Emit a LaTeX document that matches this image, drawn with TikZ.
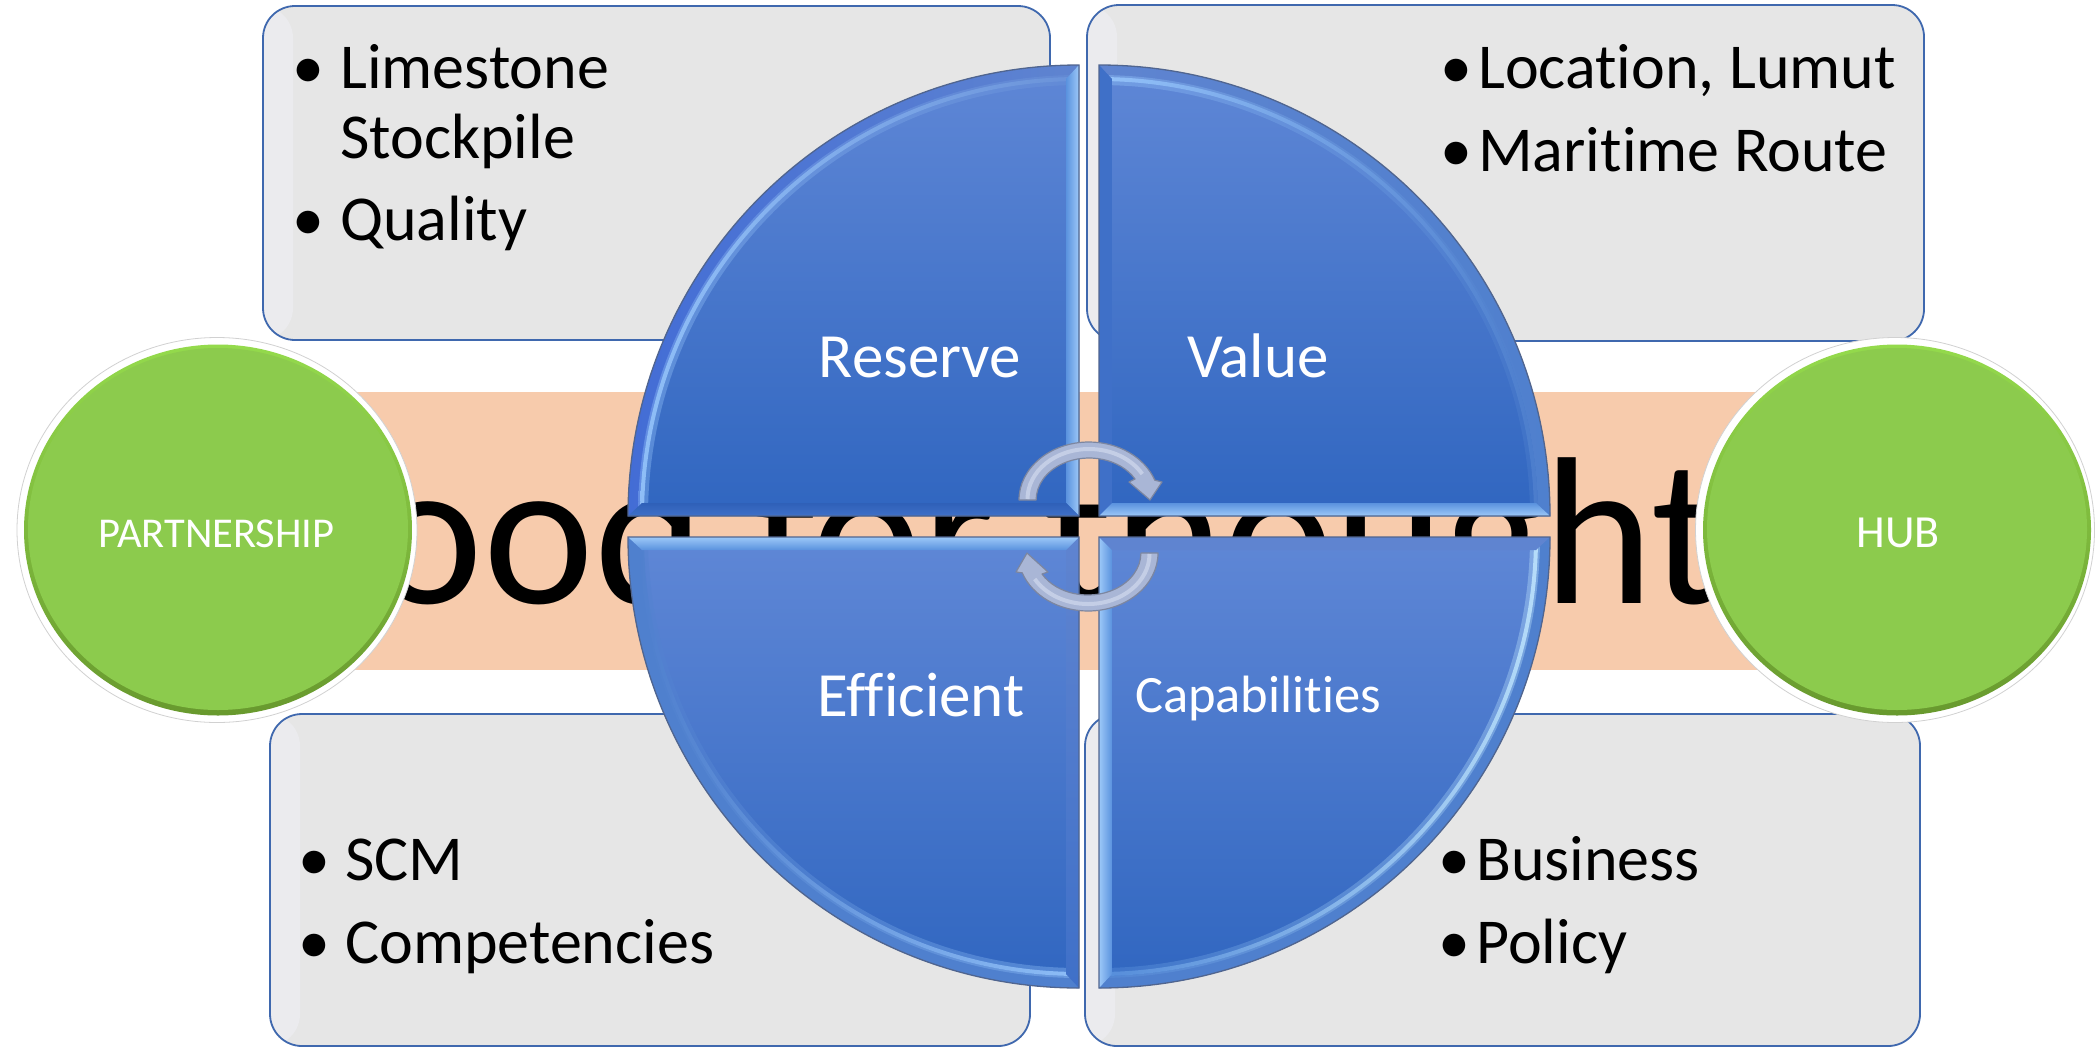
\documentclass[tikz,border=0pt]{standalone}
\usepackage{fontspec}
\setmainfont[Ligatures=NoCommon]{Carlito}
\usetikzlibrary{shapes.geometric,calc}
\definecolor{boxfill}{HTML}{E6E6E6}
\definecolor{boxline}{HTML}{3F68AE}
\definecolor{bandc}{HTML}{F7CBAC}
\definecolor{pieline}{HTML}{50658F}
\newcommand{\fs}[1]{\fontsize{#1}{#1}\selectfont}
\newcommand{\pieshape}[5]{\path[#5] ({#1},{#2}) -- ({#1+#3*451},{#2}) .. controls ({#1+#3*451},{#2+#4*249}) and ({#1+#3*249},{#2+#4*451}) .. ({#1},{#2+#4*451}) -- cycle;}
\newcommand{\annul}[7]{\path[#7] ({#1+#3*#5},{#2}) .. controls ({#1+#3*#5},{#2+#4*0.5523*#5}) and ({#1+#3*0.5523*#5},{#2+#4*#5}) .. ({#1},{#2+#4*#5}) -- ({#1},{#2+#4*#6}) .. controls ({#1+#3*0.5523*#6},{#2+#4*#6}) and ({#1+#3*#6},{#2+#4*0.5523*#6}) .. ({#1+#3*#6},{#2}) -- cycle;}
\newcommand{\vband}[5]{\path[#5] ({#1},{#2}) -- ({#1},{#2+#4*451}) -- ({#1+#3*13},{#2+#4*437}) -- ({#1+#3*13},{#2+#4*13}) -- cycle;}
\newcommand{\hband}[5]{\path[#5] ({#1},{#2}) -- ({#1+#3*451},{#2}) -- ({#1+#3*437},{#2+#4*13}) -- ({#1+#3*13},{#2+#4*13}) -- cycle;}
% centre x, centre y, dir x, dir y, arc band style, arc highlight style, vertical band style, horizontal band style
\newcommand{\quadrant}[8]{%
  \pieshape{#1}{#2}{#3}{#4}{top color=piet,middle color=piem,bottom color=pieb}
  \annul{#1}{#2}{#3}{#4}{451}{439}{#5}
  \annul{#1}{#2}{#3}{#4}{441}{431}{#6,opacity=0.35}
  \annul{#1}{#2}{#3}{#4}{439}{435}{#6,opacity=0.8}
  \vband{#1}{#2}{#3}{#4}{#7}
  \hband{#1}{#2}{#3}{#4}{#8}
  \pieshape{#1}{#2}{#3}{#4}{draw=pieline,line width=1.3pt}
}
\definecolor{piet}{HTML}{5F87D6}
\definecolor{piem}{HTML}{3F75D3}
\definecolor{pieb}{HTML}{3066C0}
\tikzset{
  textbox/.style={rectangle,rounded corners=32pt,draw=boxline,line width=1.8pt,fill=boxfill,inner sep=0pt,outer sep=0pt,
    path picture={\shade[left color=F1col,right color=boxfill] (path picture bounding box.south west) rectangle ([xshift=30pt]path picture bounding box.north west);}},
  listtext/.style={anchor=base west,inner sep=0pt,font=\fs{64},text=black},
  bullet/.style={anchor=base,inner sep=0pt,font=\fs{64},text=black},
  pielabel/.style={anchor=base,inner sep=0pt,font=\fs{63},text=white},
  rimwhite/.style={ellipse,inner sep=0pt,fill=white,draw=black!18,line width=0.8pt},
  rimgreen/.style={ellipse,inner sep=0pt,top color=94DA4C,bottom color=68992E},
  facegreen/.style={ellipse,inner sep=0pt,fill=8CCB4D},
  greenlabel/.style={anchor=base,inner sep=0pt,font=\fs{42.5},text=white},
  cyclearrow/.style={fill=arrowc,draw=arrowl,line width=1.2pt,line join=round},
  arrowmid/.style={draw=arrowm,line width=4pt}
}
\definecolor{F1col}{HTML}{EBEBEE}
\definecolor{94DA4C}{HTML}{94DA4C}
\definecolor{68992E}{HTML}{68992E}
\definecolor{8CCB4D}{HTML}{8CCB4D}
\definecolor{arrowc}{HTML}{A9B6D6}
\definecolor{arrowl}{HTML}{7C86A0}
\definecolor{arrowm}{HTML}{C4CEE6}
\definecolor{c1}{HTML}{4F80CE}
\definecolor{hl}{HTML}{9CCBFF}
\definecolor{hd}{HTML}{6C94DA}
\definecolor{lt}{HTML}{C4EAFF}
\definecolor{l2}{HTML}{9CC8F8}
\definecolor{l3}{HTML}{5A92DE}
\definecolor{dk}{HTML}{2F60B8}
\definecolor{dm}{HTML}{3F70C8}
\definecolor{dn}{HTML}{5F84D0}
\begin{document}
\begin{tikzpicture}[x=1pt,y=-1pt]
\useasboundingbox (0,0) rectangle (2095,1047);
\fill[white] (0,0) rectangle (2095,1047);
% grey boxes
\node[textbox,minimum width=787pt,minimum height=334pt] (boxtl) at (656.5,173) {};
\node[textbox,minimum width=837pt,minimum height=336pt] (boxtr) at (1505.5,173) {};
\node[textbox,minimum width=760pt,minimum height=332pt] (boxbl) at (650,880) {};
\node[textbox,minimum width=835pt,minimum height=332pt] (boxbr) at (1502.5,880) {};
% list text
\node[bullet] (b1) at (308,88) {•};
\node[listtext] (t1) at (340,88) {Limestone};
\node[listtext] (t2) at (340,158.5) {Stockpile};
\node[bullet] (b2) at (308,240) {•};
\node[listtext] (t3) at (340,240) {Quality};
\node[bullet] (b3) at (1456,88) {•};
\node[listtext] (t4) at (1478,88) {Location, Lumut};
\node[bullet] (b4) at (1456,171) {•};
\node[listtext] (t5) at (1478,171) {Maritime Route};
\node[bullet] (b5) at (314,880) {•};
\node[listtext] (t6) at (345,880) {SCM};
\node[bullet] (b6) at (314,963) {•};
\node[listtext] (t7) at (345,963) {Competencies};
\node[bullet] (b7) at (1454,880) {•};
\node[listtext] (t8) at (1476,880) {Business};
\node[bullet] (b8) at (1454,963) {•};
\node[listtext] (t9) at (1476,963) {Policy};
% band
\node[rectangle,fill=bandc,inner sep=0pt,minimum width=1550pt,minimum height=278pt] (band) at (1050,531) {};
\node[anchor=base west,inner sep=0pt,font=\fs{210},text=black] (food) at (279,603) {Food for thought};
% pie
\quadrant{1079}{516}{-1}{-1}{left color=c1!85!blue,right color=dn}{left color=hl,right color=hd}{left color=l3,middle color=lt,right color=l2}{top color=dk,bottom color=dm}
\quadrant{1099}{516}{1}{-1}{left color=dn,right color=c1}{left color=hl,right color=c1}{left color=dm,right color=dm}{top color=l3,middle color=lt,bottom color=l2}
\quadrant{1079}{537}{-1}{1}{left color=c1,right color=c1}{left color=c1,right color=hl}{top color=dn,bottom color=dm}{top color=l2,middle color=lt,bottom color=l3}
\quadrant{1099}{537}{1}{1}{left color=c1,right color=c1}{left color=l3,right color=lt}{left color=l2,middle color=lt,right color=l3}{top color=dn,bottom color=dn}
% pie labels
\node[pielabel] (reserve) at (920,377) {Reserve};
\node[pielabel] (value) at (1258,377) {Value};
\node[pielabel] (efficient) at (921,716) {Efficient};
\node[pielabel,font=\fs{52.5}] (capab) at (1258,712) {Capabilities};
% green circles
\node[rimwhite,minimum width=400pt,minimum height=385pt] (pouter) at (217,530) {};
\node[rimgreen,minimum width=388pt,minimum height=371pt] (prim) at (218,530) {};
\node[facegreen,minimum width=380pt,minimum height=362pt] (pface) at (218,529) {};
\node[greenlabel] (partner) at (216.5,547) {PARTNERSHIP};
\node[rimwhite,minimum width=399pt,minimum height=385pt] (houter) at (1895,530) {};
\node[rimgreen,minimum width=388pt,minimum height=371pt] (hrim) at (1897,530) {};
\node[facegreen,minimum width=380pt,minimum height=362pt] (hface) at (1897,529) {};
\node[greenlabel,font=\fs{46}] (hub) at (1898,547) {HUB};
% cycle arrows
\path[cyclearrow] (1019,500) arc[start angle=180,end angle=20,x radius=70pt,y radius=58pt] -- (1162,482) -- (1150,500) -- (1129,482) -- (1135,479) arc[start angle=30,end angle=180,x radius=53pt,y radius=42pt] -- cycle;
\path[arrowmid] (1027.5,499) arc[start angle=180,end angle=30,x radius=61.5pt,y radius=50pt];
\path[cyclearrow] (1158,553) arc[start angle=0,end angle=-160,x radius=70pt,y radius=58pt] -- (1016,572) -- (1027,553) -- (1048,572) -- (1042,574) arc[start angle=-150,end angle=0,x radius=53pt,y radius=42pt] -- cycle;
\path[arrowmid] (1149.5,554) arc[start angle=0,end angle=-150,x radius=61.5pt,y radius=50pt];
\end{tikzpicture}
\end{document}
